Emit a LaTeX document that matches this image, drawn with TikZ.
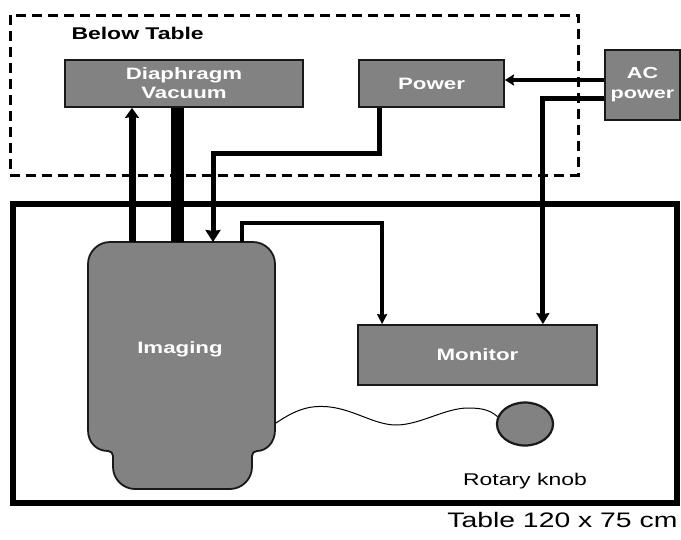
\documentclass[tikz,border=0pt]{standalone}
\usepackage{fontspec}
\setmainfont{Liberation Sans}[FakeStretch=1.35]
\usetikzlibrary{arrows.meta,shapes.geometric,calc}
\definecolor{unitgray}{RGB}{130,130,130}
\definecolor{edgegray}{RGB}{25,25,25}
\tikzset{
  unit/.style={draw=edgegray,line width=1.8pt,fill=unitgray,text=white,inner sep=0pt,
    align=center,font=\fontsize{16.5}{19}\selectfont\bfseries},
  wire/.style={line width=#1},
  belowbox/.style={line width=3pt,dash pattern=on 10pt off 6pt},
  knob/.style={ellipse,draw=edgegray,line width=2.2pt,fill=unitgray,
    minimum width=56pt,minimum height=43pt,inner sep=0pt}
}
\begin{document}
\begin{tikzpicture}[x=1pt,y=-1pt]
   \useasboundingbox (0,0) rectangle (681,539);
   \draw[belowbox] (10,15) rectangle (578,175);
   \node[anchor=base west,font=\fontsize{17}{19}\selectfont\bfseries] (below) at (68,39) {Below Table};
   \draw[line width=6pt] (13,204) rectangle (677,503);
   \node[anchor=base east,font=\fontsize{21}{23}\selectfont] (table) at (681,527) {Table 120 x 75 cm};
   \node[unit,minimum width=238pt,minimum height=47pt] (diaph) at (184,83.5) {Diaphragm\\Vacuum};
   \node[unit,minimum width=145pt,minimum height=47pt] (power) at (431.5,83.5) {Power};
   \node[unit,line width=2.6pt,minimum width=75pt,minimum height=70pt,
     font=\fontsize{16}{20}\selectfont\bfseries] (acpow) at (642.5,85) {AC\\power};
   \node[unit,minimum width=239pt,minimum height=60pt] (monitor) at (477.5,355) {Monitor};
   \filldraw[fill=unitgray,draw=edgegray,line width=1.8pt]
   (88,264) .. controls (88,252) and (98,242) .. (110,242) -- (253,242)
   .. controls (265,242) and (275,252) .. (275,264) -- (275,430)
   .. controls (275,443) and (266,451) .. (257,451)
   .. controls (254,451) and (252,453) .. (252,456) -- (252,467)
   .. controls (252,479) and (242,489) .. (230,489) -- (135,489)
   .. controls (123,489) and (113,479) .. (113,467) -- (113,456)
   .. controls (113,453) and (111,451) .. (108,451)
   .. controls (97,451) and (88,443) .. (88,430) -- cycle;
   \node[text=white,font=\fontsize{16.5}{19}\selectfont\bfseries] (imaging) at (180,349) {Imaging};
   \coordinate (imgA) at (132,242);
   \coordinate (imgB) at (177,242);
   \coordinate (imgC) at (213,242);
   \coordinate (imgD) at (242,242);
   \coordinate (imgR) at (276,423);
   \node[knob] (knob) at (525,424) {};
   \node[anchor=base,font=\fontsize{17}{19}\selectfont] (knoblabel) at (525,485) {Rotary knob};
   \draw[wire=7pt,-{Stealth[inset=1pt,length=10pt,width=14pt]}] (imgA) -- (imgA |- diaph.south);
   \draw[wire=13pt] (imgB) -- (imgB |- diaph.south);
   \draw[wire=5pt,-{Stealth[inset=1pt,length=12pt,width=15pt]}]
   ($(power.south west)+(21,0)$) -- ++(0,46) -| (imgC);
   \draw[wire=3.5pt,-{Stealth[inset=1pt,length=10pt,width=10pt]}]
   (imgD) -- ++(0,-19) -| ($(monitor.north west)+(25,0)$);
   \draw[wire=4pt,-{Stealth[inset=1pt,length=9pt,width=11pt]}]
   ($(acpow.west)+(0,-5)$) coordinate (acA) -- (acA -| power.east);
   \draw[wire=5pt,-{Stealth[inset=1pt,length=11pt,width=13pt]}]
   ($(acpow.west)+(0,13)$) -| ($(monitor.north east)+(-55,0)$);
   \draw[line width=1pt] (imgR) .. controls (298,408) and (312,405) .. (330,407)
   .. controls (355,410) and (375,425) .. (396,425)
   .. controls (420,425) and (445,408) .. (468,408)
   .. controls (482,408) and (490,410) .. (knob.165);
 \end{tikzpicture}
\end{document}
